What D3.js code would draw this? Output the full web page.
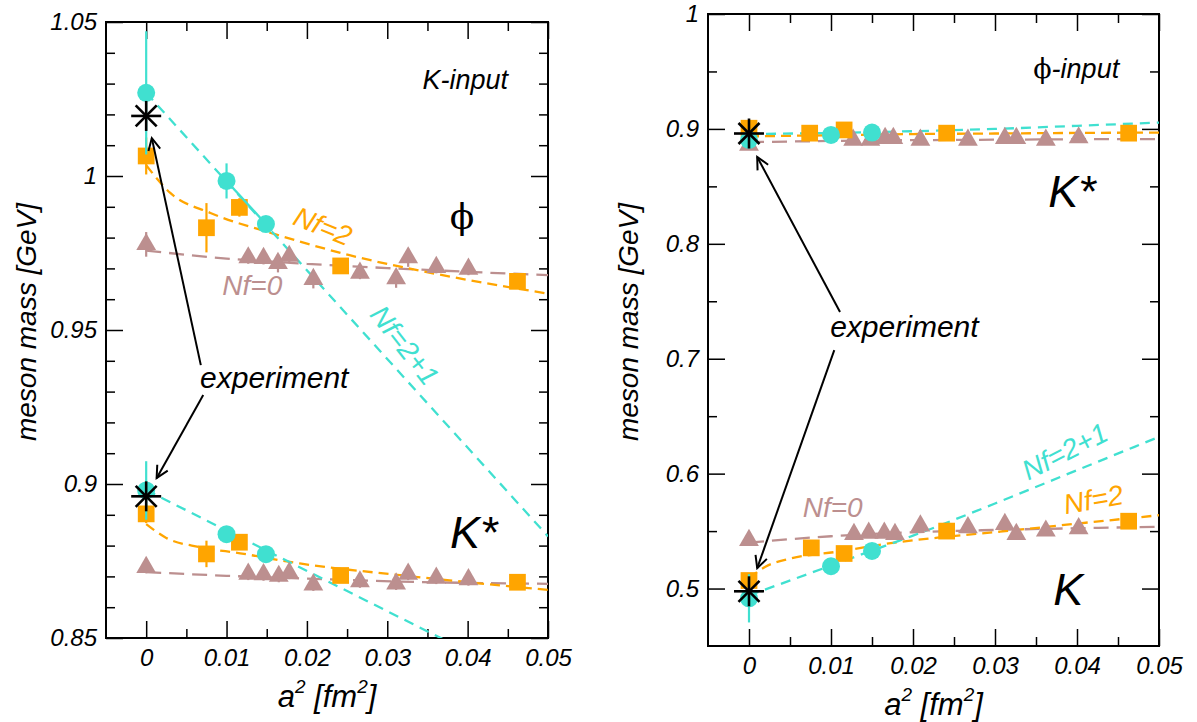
<!DOCTYPE html>
<html>
<head>
<meta charset="utf-8">
<script src="https://cdn.jsdelivr.net/npm/d3@7"></script>
<style>
  body { margin: 0; background: #fff; }
  text { font-family: "Liberation Sans", Arial, sans-serif; font-style: italic; }
</style>
</head>
<body>
<div id="chart"></div>
<script>
// ---- data: [a^2, mass, error] ----
const xTicks = [0, 0.01, 0.02, 0.03, 0.04, 0.05];
const xTickLabels = ["0", "0.01", "0.02", "0.03", "0.04", "0.05"];
const xMinor = [0.005, 0.015, 0.025, 0.035, 0.045];

const yTicksL = [0.85, 0.9, 0.95, 1, 1.05];
const yTickLabelsL = ["0.85", "0.9", "0.95", "1", "1.05"];
const yMinorL = [0.86, 0.87, 0.88, 0.89, 0.91, 0.92, 0.93, 0.94, 0.96, 0.97, 0.98, 0.99, 1.01, 1.02, 1.03, 1.04];

const yTicksR = [0.5, 0.6, 0.7, 0.8, 0.9, 1];
const yTickLabelsR = ["0.5", "0.6", "0.7", "0.8", "0.9", "1"];
const yMinorR = [0.55, 0.65, 0.75, 0.85, 0.95];

// K-input panel, phi
const kPhi21 = [[0, 1.027, 0.020], [0.0100, 0.9984, 0.0057], [0.0149, 0.9844, 0.002]];
const kPhi2 = [[0, 1.0065, 0.006], [0.0075, 0.9832, 0.008], [0.0116, 0.9898, 0.003], [0.0242, 0.9708, 0.002], [0.0462, 0.9658, 0.002]];
const kPhi0 = [[0, 0.9778, 0.004], [0.0127, 0.9735, 0.002], [0.0146, 0.9733, 0.002], [0.0164, 0.9717, 0.003], [0.0178, 0.9740, 0.002],
  [0.0208, 0.9665, 0.003], [0.0266, 0.9685, 0.002], [0.0311, 0.9667, 0.003], [0.0326, 0.9735, 0.003], [0.0361, 0.9704, 0.002], [0.0401, 0.9698, 0.002]];
// K-input panel, K*
const kKst21 = [[0, 0.8979, 0.0095], [0.0100, 0.8837, 0.002], [0.0149, 0.8772, 0.002]];
const kKst2 = [[0, 0.8903, 0.003], [0.0075, 0.8773, 0.0043], [0.0116, 0.8811, 0.002], [0.0242, 0.8703, 0.002], [0.0462, 0.8681, 0.002]];
const kKst0 = [[0, 0.8730, 0.002], [0.0127, 0.8708, 0.002], [0.0146, 0.8706, 0.002], [0.0165, 0.8701, 0.002], [0.0178, 0.8711, 0.002],
  [0.0208, 0.8673, 0.002], [0.0266, 0.8683, 0.002], [0.0311, 0.8676, 0.002], [0.0326, 0.8708, 0.002], [0.0361, 0.8695, 0.002], [0.0401, 0.8690, 0.002]];

// phi-input panel, K*
const pKst21 = [[0, 0.8905, 0.003], [0.0100, 0.8948, 0.002], [0.0150, 0.8968, 0.002]];
const pKst2 = [[0, 0.9006, 0.002], [0.0074, 0.8963, 0.002], [0.0116, 0.8991, 0.002], [0.0241, 0.8963, 0.002], [0.0463, 0.8963, 0.002]];
const pKst0 = [[0, 0.8860, 0.002], [0.0127, 0.8904, 0.002], [0.0148, 0.8904, 0.002], [0.0166, 0.8919, 0.002], [0.0176, 0.8919, 0.002],
  [0.0209, 0.8904, 0.002], [0.0267, 0.8904, 0.002], [0.0312, 0.8919, 0.002], [0.0326, 0.8919, 0.002], [0.0362, 0.8904, 0.002], [0.0402, 0.8924, 0.002]];
// phi-input panel, K
const pK21 = [[0, 0.4915, 0.021], [0.0100, 0.5194, 0.002], [0.0150, 0.5327, 0.002]];
const pK2 = [[0, 0.5070, 0.003], [0.0076, 0.5354, 0.006], [0.0116, 0.5305, 0.003], [0.0241, 0.5500, 0.002], [0.0463, 0.5586, 0.002]];
const pK0 = [[0, 0.5420, 0.002], [0.0128, 0.5473, 0.002], [0.0146, 0.5484, 0.002], [0.0165, 0.5484, 0.002], [0.0178, 0.5473, 0.002],
  [0.0209, 0.5547, 0.003], [0.0267, 0.5531, 0.002], [0.0312, 0.5560, 0.002], [0.0326, 0.5473, 0.002], [0.0362, 0.5502, 0.002], [0.0402, 0.5522, 0.002]];

// fit curves
const fitKPhi21 = [[0, 1.027], [0.05, 0.883]];
const fitKPhi2 = [[0, 1.0035], [0.003, 0.9945], [0.008, 0.988], [0.0157, 0.9814], [0.0253, 0.9743], [0.0357, 0.9684], [0.05, 0.9618]];
const fitKPhi0 = [[0, 0.9758], [0.01, 0.9732], [0.02, 0.9715], [0.03, 0.9701], [0.04, 0.9689], [0.05, 0.9678]];
const fitKKst21 = [[0, 0.898], [0.05, 0.8325]];
const fitKKst2 = [[0, 0.887], [0.0025, 0.8825], [0.0067, 0.8795], [0.0117, 0.8775], [0.0191, 0.8742], [0.0316, 0.8704], [0.05, 0.8656]];
const fitKKst0 = [[0, 0.8714], [0.01, 0.8702], [0.02, 0.8693], [0.0316, 0.8683], [0.04, 0.8679], [0.05, 0.8676]];
const fitPKst21 = [[0, 0.8955], [0.01, 0.8965], [0.02, 0.898], [0.03, 0.900], [0.04, 0.9027], [0.05, 0.9055]];
const fitPKst2 = [[0, 0.8935], [0.01, 0.8945], [0.02, 0.8955], [0.03, 0.896], [0.04, 0.8965], [0.05, 0.8968]];
const fitPKst0 = [[0, 0.8885], [0.01, 0.8895], [0.02, 0.8902], [0.03, 0.8906], [0.04, 0.891], [0.05, 0.8912]];
const fitPK21 = [[0, 0.494], [0.01, 0.520], [0.015, 0.533], [0.02, 0.546], [0.03, 0.574], [0.04, 0.603], [0.05, 0.632]];
const fitPK2 = [[0, 0.509], [0.002, 0.519], [0.005, 0.526], [0.0107, 0.532], [0.0184, 0.5406], [0.0239, 0.5449], [0.0306, 0.5495], [0.04, 0.5565], [0.05, 0.5638]];
const fitPK0 = [[0, 0.540], [0.01, 0.5455], [0.02, 0.549], [0.03, 0.551], [0.04, 0.5525], [0.05, 0.5537]];

// experimental values
const expL = [[0, 1.0195], [0, 0.896]];
const expR = [[0, 0.896], [0, 0.4976]];

const TURQ = "#40E0D0", ORANGE = "#FFA500", BROWN = "#BC8F8F";

const svg = d3.select("#chart").append("svg")
  .attr("width", 1197).attr("height", 722);

svg.append("defs").append("marker")
  .attr("id", "arrow")
  .attr("viewBox", "-14 -8 16 16")
  .attr("refX", 0).attr("refY", 0)
  .attr("markerWidth", 16).attr("markerHeight", 16)
  .attr("markerUnits", "userSpaceOnUse")
  .attr("orient", "auto")
  .append("path")
  .attr("d", "M-12,-6L0,0L-12,6")
  .attr("fill", "none").attr("stroke", "#000").attr("stroke-width", 2);

function drawPanel(p) {
  const x = d3.scaleLinear().domain([-0.005, 0.05]).range([p.left, p.right]);
  const y = d3.scaleLinear().domain(p.yDomain).range([p.bottom, p.top]);
  const g = svg.append("g");

  svg.append("clipPath").attr("id", "clip" + p.id)
    .append("rect")
    .attr("x", p.left).attr("y", p.top)
    .attr("width", p.right - p.left).attr("height", p.bottom - p.top);

  // axes, ticks inside on all four sides
  const MAJ = 17, MIN = 9;
  const ax = [
    [d3.axisBottom(x).tickValues(xTicks).tickSize(-MAJ).tickPadding(11).tickFormat((d, i) => xTickLabels[i]), `translate(0,${p.bottom})`],
    [d3.axisBottom(x).tickValues(xMinor).tickSize(-MIN).tickFormat(""), `translate(0,${p.bottom})`],
    [d3.axisTop(x).tickValues(xTicks).tickSize(-MAJ).tickFormat(""), `translate(0,${p.top})`],
    [d3.axisTop(x).tickValues(xMinor).tickSize(-MIN).tickFormat(""), `translate(0,${p.top})`],
    [d3.axisLeft(y).tickValues(p.yTicks).tickSize(-MAJ).tickPadding(9).tickFormat((d, i) => p.yLabels[i]), `translate(${p.left},0)`],
    [d3.axisLeft(y).tickValues(p.yMinor).tickSize(-MIN).tickFormat(""), `translate(${p.left},0)`],
    [d3.axisRight(y).tickValues(p.yTicks).tickSize(-MAJ).tickFormat(""), `translate(${p.right},0)`],
    [d3.axisRight(y).tickValues(p.yMinor).tickSize(-MIN).tickFormat(""), `translate(${p.right},0)`]
  ];
  ax.forEach(([a, t]) => {
    const ag = g.append("g").attr("transform", t).call(a);
    ag.select(".domain").remove();
    ag.selectAll("line").attr("stroke", "#000").attr("stroke-width", 1.5);
    ag.selectAll("text").attr("font-size", 24).attr("fill", "#000")
      .attr("font-family", "Liberation Sans, Arial, sans-serif").style("font-style", "italic");
  });
  g.append("rect")
    .attr("x", p.left).attr("y", p.top)
    .attr("width", p.right - p.left).attr("height", p.bottom - p.top)
    .attr("fill", "none").attr("stroke", "#000").attr("stroke-width", 2);

  // axis titles
  g.append("text")
    .attr("transform", `translate(${p.left - 70},${(p.top + p.bottom) / 2 - 8}) rotate(-90)`)
    .attr("text-anchor", "middle").attr("font-size", 28)
    .text("meson mass [GeV]");
  const xt = g.append("text")
    .attr("x", (p.left + p.right) / 2).attr("y", p.bottom + 69)
    .attr("text-anchor", "middle").attr("font-size", 31);
  xt.append("tspan").text("a");
  xt.append("tspan").attr("font-size", 19).attr("dy", -14).text("2");
  xt.append("tspan").attr("dy", 14).text(" [fm");
  xt.append("tspan").attr("font-size", 19).attr("dy", -14).text("2");
  xt.append("tspan").attr("dy", 14).text("]");

  // fit curves
  const line = d3.line().x(d => x(d[0])).y(d => y(d[1])).curve(d3.curveMonotoneX);
  const fg = g.append("g").attr("clip-path", `url(#clip${p.id})`);
  p.fits.forEach(f => {
    fg.append("path")
      .attr("d", line(f.data))
      .attr("fill", "none").attr("stroke", f.color)
      .attr("stroke-width", 2.3).attr("stroke-dasharray", f.dash);
  });

  // data points
  p.series.forEach(s => {
    const sg = g.append("g");
    sg.selectAll("line.err").data(s.data).join("line")
      .attr("x1", d => x(d[0])).attr("x2", d => x(d[0]))
      .attr("y1", d => y(d[1] - d[2])).attr("y2", d => y(d[1] + d[2]))
      .attr("stroke", s.color).attr("stroke-width", 2.2);
    if (s.solid) {
      sg.append("path")
        .attr("d", d3.line().x(d => x(d[0])).y(d => y(d[1]))(s.data.filter(d => d[0] > 0)))
        .attr("fill", "none").attr("stroke", s.color).attr("stroke-width", 2.3);
    }
    if (s.shape === "circle") {
      sg.selectAll("circle").data(s.data).join("circle")
        .attr("cx", d => x(d[0])).attr("cy", d => y(d[1])).attr("r", 9)
        .attr("fill", s.color);
    } else {
      const sym = d3.symbol().type(s.shape === "square" ? d3.symbolSquare : d3.symbolTriangle)
        .size(s.shape === "square" ? 280 : 170);
      sg.selectAll("path.m").data(s.data).join("path")
        .attr("transform", d => `translate(${x(d[0])},${y(d[1])})`)
        .attr("d", sym).attr("fill", s.color);
    }
  });

  // experiment: asterisks
  p.exp.forEach(d => {
    const cx = x(d[0]), cy = y(d[1]);
    const star = g.append("g").attr("transform", `translate(${cx},${cy})`)
      .attr("stroke", "#000").attr("stroke-width", 2.6);
    [[15, 0], [0, 15], [10.5, 10.5], [10.5, -10.5]].forEach(([dx, dy]) => {
      star.append("line").attr("x1", -dx).attr("y1", -dy).attr("x2", dx).attr("y2", dy);
    });
  });

  // arrows
  p.arrows.forEach(a => {
    g.append("line")
      .attr("x1", x(a[0])).attr("y1", y(a[1]))
      .attr("x2", x(a[2])).attr("y2", y(a[3]))
      .attr("stroke", "#000").attr("stroke-width", 2)
      .attr("marker-end", "url(#arrow)");
  });

  // text labels
  p.labels.forEach(l => {
    const t = g.append("text")
      .attr("transform", `translate(${x(l.x)},${y(l.y)}) rotate(${l.rot || 0})`)
      .attr("text-anchor", l.anchor || "middle")
      .attr("dominant-baseline", l.base || "auto")
      .attr("font-size", l.size).attr("fill", l.color || "#000");
    l.parts.forEach(pt => {
      const ts = t.append("tspan").text(pt.t);
      if (pt.serif) {
        ts.attr("font-family", "DejaVu Serif, Liberation Serif, serif").style("font-style", "normal");
        if (pt.size) ts.attr("font-size", pt.size);
      }
    });
  });
}

drawPanel({
  id: "L", left: 106, right: 548, top: 22, bottom: 638,
  yDomain: [0.85, 1.05], yTicks: yTicksL, yLabels: yTickLabelsL, yMinor: yMinorL,
  fits: [
    { data: fitKPhi0, color: BROWN, dash: "15,8" },
    { data: fitKPhi2, color: ORANGE, dash: "10,6" },
    { data: fitKPhi21, color: TURQ, dash: "10,7" },
    { data: fitKKst0, color: BROWN, dash: "15,8" },
    { data: fitKKst2, color: ORANGE, dash: "10,6" },
    { data: fitKKst21, color: TURQ, dash: "10,7" }
  ],
  series: [
    { data: kPhi0, color: BROWN, shape: "triangle" },
    { data: kKst0, color: BROWN, shape: "triangle" },
    { data: kPhi2, color: ORANGE, shape: "square" },
    { data: kKst2, color: ORANGE, shape: "square" },
    { data: kPhi21, color: TURQ, shape: "circle", solid: true },
    { data: kKst21, color: TURQ, shape: "circle" }
  ],
  exp: expL,
  arrows: [[0.0068, 0.9386, 0.0007, 1.0123], [0.0071, 0.9289, 0.0013, 0.9019]],
  labels: [
    { x: 0.0397, y: 1.0282, size: 27, parts: [{ t: "K-input" }] },
    { x: 0.0393, y: 0.9828, size: 36, parts: [{ t: "ϕ", serif: true }] },
    { x: 0.0378, y: 0.8792, size: 45, anchor: "start", parts: [{ t: "K*" }] },
    { x: 0.0067, y: 0.9312, size: 30, anchor: "start", parts: [{ t: "experiment" }] },
    { x: 0.0220, y: 0.9838, size: 28, rot: 22, base: "central", color: ORANGE, parts: [{ t: "Nf=2" }] },
    { x: 0.0132, y: 0.9646, size: 28, base: "central", color: BROWN, parts: [{ t: "Nf=0" }] },
    { x: 0.0322, y: 0.9451, size: 28, rot: 52, base: "central", color: TURQ, parts: [{ t: "Nf=2+1" }] }
  ]
});

drawPanel({
  id: "R", left: 708, right: 1159, top: 14, bottom: 646,
  yDomain: [0.45, 1.0], yTicks: yTicksR, yLabels: yTickLabelsR, yMinor: yMinorR,
  fits: [
    { data: fitPKst0, color: BROWN, dash: "15,8" },
    { data: fitPKst2, color: ORANGE, dash: "10,6" },
    { data: fitPKst21, color: TURQ, dash: "10,7" },
    { data: fitPK0, color: BROWN, dash: "15,8" },
    { data: fitPK2, color: ORANGE, dash: "10,6" },
    { data: fitPK21, color: TURQ, dash: "10,7" }
  ],
  series: [
    { data: pKst0, color: BROWN, shape: "triangle" },
    { data: pK0, color: BROWN, shape: "triangle" },
    { data: pKst2, color: ORANGE, shape: "square" },
    { data: pK2, color: ORANGE, shape: "square" },
    { data: pKst21, color: TURQ, shape: "circle" },
    { data: pK21, color: TURQ, shape: "circle" }
  ],
  exp: expR,
  arrows: [[0.0111, 0.7406, 0.0010, 0.8756], [0.0104, 0.7075, 0.0010, 0.5177]],
  labels: [
    { x: 0.0399, y: 0.9444, size: 27, parts: [{ t: "ϕ", serif: true }, { t: "-input" }] },
    { x: 0.0365, y: 0.8321, size: 45, anchor: "start", parts: [{ t: "K*" }] },
    { x: 0.0371, y: 0.4854, size: 45, anchor: "start", parts: [{ t: "K" }] },
    { x: 0.0099, y: 0.7189, size: 30, anchor: "start", parts: [{ t: "experiment" }] },
    { x: 0.0102, y: 0.5708, size: 28, base: "central", color: BROWN, parts: [{ t: "Nf=0" }] },
    { x: 0.0420, y: 0.5778, size: 28, rot: -10, base: "central", color: ORANGE, parts: [{ t: "Nf=2" }] },
    { x: 0.0385, y: 0.6196, size: 28, rot: -27, base: "central", color: TURQ, parts: [{ t: "Nf=2+1" }] }
  ]
});
</script>
</body>
</html>
